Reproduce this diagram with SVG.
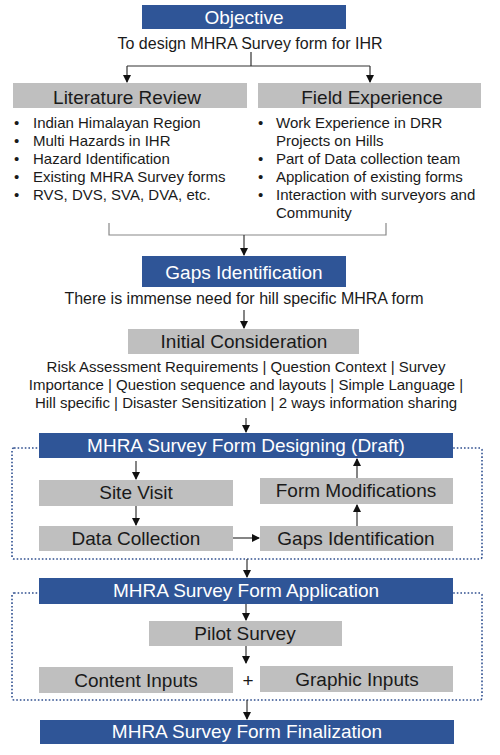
<svg xmlns="http://www.w3.org/2000/svg" width="500" height="755" viewBox="0 0 500 755">
<defs>
<marker id="ah" markerWidth="8" markerHeight="8" refX="7" refY="4" orient="auto" markerUnits="userSpaceOnUse">
<path d="M0,0 L8,4 L0,8 z" fill="#111"/>
</marker>
<style>
text{font-family:"Liberation Sans",Arial,sans-serif;fill:#1a1a1a}
.blue{fill:#2F5597}
.gray{fill:#BFBFBF}
.wt{fill:#ffffff;font-size:19px;text-anchor:middle}
.bt{font-size:19px;text-anchor:middle}
.sub{font-size:16px;text-anchor:middle}
.li{font-size:15px}
.ln{fill:none;stroke:#333;stroke-width:1.2}
.br{fill:none;stroke:#888;stroke-width:1.2}
.ar{fill:none;stroke:#333;stroke-width:1.2;marker-end:url(#ah)}
.dot{fill:none;stroke:#2F4F8F;stroke-width:1.6;stroke-dasharray:1.6 2}
</style>
</defs>
<rect width="500" height="755" fill="#ffffff"/>

<g id="groups">
<rect class="dot" x="12" y="448" width="470" height="111" rx="2"/>
<rect class="dot" x="12" y="593" width="470" height="107" rx="2"/>
</g>

<g id="connectors">
<path class="ln" d="M251,52 V66 M127,66 H370"/>
<path class="ar" d="M127,66 V82"/>
<path class="ar" d="M370,66 V82"/>
<path class="br" d="M109,223 V235 H386 V223"/>
<path class="ar" d="M244,235 V255"/>
<path class="ar" d="M244,310 V328"/>
<path class="ar" d="M246,418 V432"/>
<path class="ar" d="M136,461 V479"/>
<path class="ar" d="M136,506 V525"/>
<path class="ar" d="M233,538 H259"/>
<path class="ar" d="M357,526 V505"/>
<path class="ar" d="M357,478 V459"/>
<path class="ar" d="M247,559 V577"/>
<path class="ar" d="M246,604 V620"/>
<path class="ar" d="M246,646 V663"/>
<path class="ar" d="M247,700 V719"/>
</g>

<g id="objective">
<rect class="blue" x="142" y="5" width="204" height="24"/>
<text class="wt" x="244" y="24">Objective</text>
<text class="sub" x="250" y="49">To design MHRA Survey form for IHR</text>
</g>

<g id="literature-review">
<rect class="gray" x="13" y="83" width="234" height="25"/>
<text class="bt" x="127" y="104">Literature Review</text>
<g class="li">
<text x="14" y="128">•</text><text x="33" y="128">Indian Himalayan Region</text>
<text x="14" y="146">•</text><text x="33" y="146">Multi Hazards in IHR</text>
<text x="14" y="164">•</text><text x="33" y="164">Hazard Identification</text>
<text x="14" y="182">•</text><text x="33" y="182">Existing MHRA Survey forms</text>
<text x="14" y="200">•</text><text x="33" y="200">RVS, DVS, SVA, DVA, etc.</text>
</g>
</g>

<g id="field-experience">
<rect class="gray" x="258" y="83" width="223" height="25"/>
<text class="bt" x="372" y="104">Field Experience</text>
<g class="li">
<text x="258" y="128">•</text><text x="276" y="128">Work Experience in DRR</text>
<text x="276" y="146">Projects on Hills</text>
<text x="258" y="164">•</text><text x="276" y="164">Part of Data collection team</text>
<text x="258" y="182">•</text><text x="276" y="182">Application of existing forms</text>
<text x="258" y="200">•</text><text x="276" y="200">Interaction with surveyors and</text>
<text x="276" y="218">Community</text>
</g>
</g>

<g id="gaps-identification">
<rect class="blue" x="142" y="256" width="204" height="31"/>
<text class="wt" x="244" y="279">Gaps Identification</text>
<text class="sub" x="244" y="304">There is immense need for hill specific MHRA form</text>
</g>

<g id="initial-consideration">
<rect class="gray" x="128" y="329" width="231" height="25"/>
<text class="bt" x="244" y="348">Initial Consideration</text>
<text class="li" x="246" y="372" text-anchor="middle">Risk Assessment Requirements | Question Context | Survey</text>
<text class="li" x="246" y="390" text-anchor="middle">Importance | Question sequence and layouts | Simple Language |</text>
<text class="li" x="246" y="408" text-anchor="middle">Hill specific | Disaster Sensitization | 2 ways information sharing</text>
</g>

<g id="designing">
<rect class="blue" x="39" y="433" width="414" height="25"/>
<text class="wt" x="246" y="452">MHRA Survey Form Designing (Draft)</text>
</g>

<g id="site-visit">
<rect class="gray" x="39" y="480" width="194" height="26"/>
<text class="bt" x="136" y="499">Site Visit</text>
</g>

<g id="form-modifications">
<rect class="gray" x="260" y="478" width="193" height="26"/>
<text class="bt" x="356" y="497">Form Modifications</text>
</g>

<g id="data-collection">
<rect class="gray" x="39" y="526" width="194" height="25"/>
<text class="bt" x="136" y="545">Data Collection</text>
</g>

<g id="gaps-identification-2">
<rect class="gray" x="260" y="526" width="193" height="25"/>
<text class="bt" x="356" y="545">Gaps Identification</text>
</g>

<g id="application">
<rect class="blue" x="39" y="578" width="414" height="26"/>
<text class="wt" x="246" y="597">MHRA Survey Form Application</text>
</g>

<g id="pilot-survey">
<rect class="gray" x="149" y="621" width="193" height="25"/>
<text class="bt" x="245" y="640">Pilot Survey</text>
</g>

<g id="content-inputs">
<rect class="gray" x="39" y="667" width="194" height="26"/>
<text class="bt" x="136" y="687">Content Inputs</text>
</g>

<g id="plus">
<text class="bt" x="248" y="687">+</text>
</g>

<g id="graphic-inputs">
<rect class="gray" x="260" y="666" width="193" height="26"/>
<text class="bt" x="357" y="686">Graphic Inputs</text>
</g>

<g id="finalization">
<rect class="blue" x="40" y="720" width="414" height="24"/>
<text class="wt" x="247" y="738">MHRA Survey Form Finalization</text>
</g>
</svg>
